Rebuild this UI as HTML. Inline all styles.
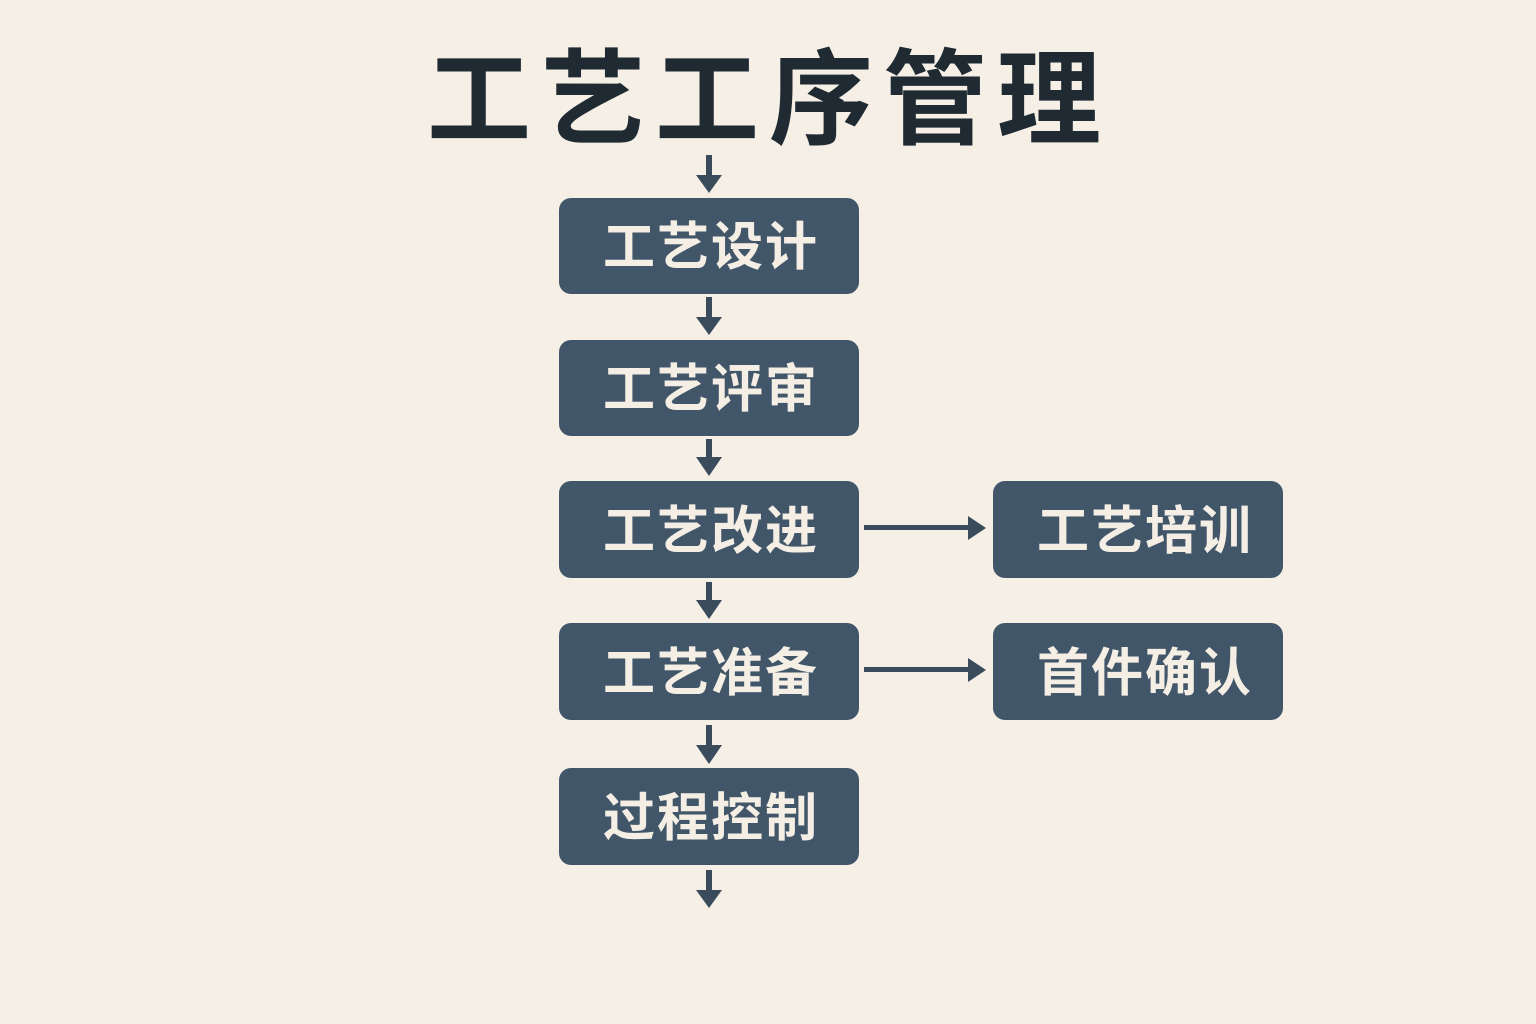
<!DOCTYPE html>
<html><head><meta charset="utf-8"><style>
html,body{margin:0;padding:0;background:#f5efe6;}
svg{display:block}
text{font-family:"Liberation Sans","Noto Sans CJK SC",sans-serif;font-weight:bold;}
</style></head><body>
<svg width="1536" height="1024" viewBox="0 0 1536 1024" xmlns="http://www.w3.org/2000/svg">
<rect width="1536" height="1024" fill="#f5efe6"/>
<text x="769" y="136" text-anchor="middle" font-size="104" fill="#1f2a33" letter-spacing="10">工艺工序管理</text>
<g fill="#42566a">
<rect x="559" y="198" width="300" height="96" rx="12"/>
<rect x="559" y="340" width="300" height="96" rx="12"/>
<rect x="559" y="481" width="300" height="97" rx="12"/>
<rect x="559" y="623" width="300" height="97" rx="12"/>
<rect x="559" y="768" width="300" height="97" rx="12"/>
<rect x="993" y="481" width="290" height="97" rx="12"/>
<rect x="993" y="623" width="290" height="97" rx="12"/>
</g>
<g fill="#f4eee4" font-size="52" text-anchor="middle" letter-spacing="2">
<text x="711" y="265">工艺设计</text>
<text x="711" y="407">工艺评审</text>
<text x="711" y="549">工艺改进</text>
<text x="711" y="691">工艺准备</text>
<text x="711" y="836">过程控制</text>
<text x="1145" y="549">工艺培训</text>
<text x="1145" y="691">首件确认</text>
</g>
<g fill="#3a4c5c">
<rect x="706" y="155" width="6" height="22"/><polygon points="696,175 722,175 709,193"/>
<rect x="706" y="297" width="6" height="22"/><polygon points="696,317 722,317 709,335"/>
<rect x="706" y="439" width="6" height="20"/><polygon points="696,457 722,457 709,476"/>
<rect x="706" y="582" width="6" height="20"/><polygon points="696,600 722,600 709,619"/>
<rect x="706" y="725" width="6" height="22"/><polygon points="696,745 722,745 709,764"/>
<rect x="706" y="870" width="6" height="22"/><polygon points="696,890 722,890 709,908"/>
<rect x="864" y="525" width="106" height="5"/><polygon points="968,516 968,540 986,528"/>
<rect x="864" y="667" width="106" height="5"/><polygon points="968,658 968,682 986,670"/>
</g>
</svg>
</body></html>
